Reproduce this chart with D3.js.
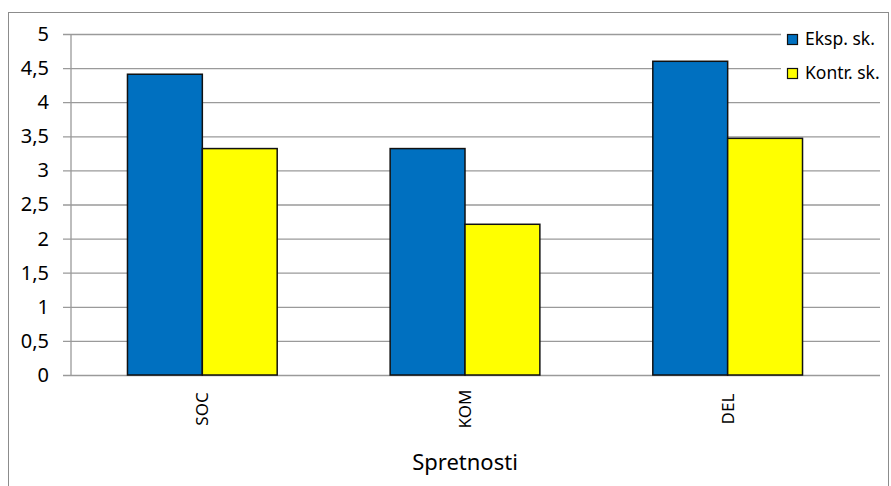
<!DOCTYPE html>
<html>
<head>
<meta charset="utf-8">
<script src="https://cdn.jsdelivr.net/npm/d3@7/dist/d3.min.js"></script>
<style>
  html, body { margin: 0; padding: 0; background: #fff; }
  svg { display: block; font-family: "Noto Sans", "Open Sans", sans-serif; }
</style>
</head>
<body>
<svg id="chart" width="891" height="486"></svg>
<script>
// Skills scored by the experimental and the control group
const categories = ["SOC", "KOM", "DEL"];
const seriesNames = ["Eksp. sk.", "Kontr. sk."];
const eksp = [4.41, 3.32, 4.60];
const kontr = [3.32, 2.21, 3.47];
const yTicks = [0, 0.5, 1, 1.5, 2, 2.5, 3, 3.5, 4, 4.5, 5];
const xTitle = "Spretnosti";
const colors = ["#0070C0", "#FFFF00"];

const svg = d3.select("#chart");
const margin = { left: 71, top: 34, right: 32, bottom: 111 };
const W = 891, H = 486;
const plotW = W - margin.left - margin.right;
const plotH = H - margin.top - margin.bottom;
const gridW = 880 - margin.left;

// chart frame
svg.append("rect")
  .attr("x", 8.5).attr("y", 12.5)
  .attr("width", 880).attr("height", 480)
  .attr("fill", "#fff").attr("stroke", "#8c8c8c").attr("stroke-width", 1);

const g = svg.append("g").attr("transform", `translate(${margin.left},${margin.top})`);

const x0 = d3.scaleBand().domain(categories).range([0, plotW]).paddingInner(0.43).paddingOuter(0.215);
const x1 = d3.scaleBand().domain(seriesNames).range([0, x0.bandwidth()]);
const y = d3.scaleLinear().domain([0, 5]).range([plotH, 0]);

// horizontal gridlines with tick stubs on the left
const yAxis = d3.axisLeft(y).tickValues(yTicks)
  .tickSize(-gridW - 8).tickPadding(14)
  .tickFormat(d => String(d).replace(".", ","));
const ya = g.append("g").attr("transform", "translate(-8,0)").call(yAxis);
ya.select(".domain").remove();
ya.selectAll(".tick line").attr("stroke", "#9a9a9a").attr("stroke-width", 1.3)
  .attr("x1", 0).attr("x2", gridW + 8);
ya.selectAll(".tick text").attr("font-size", 20).attr("fill", "#000")
  .attr("font-family", "Noto Sans, sans-serif");

// vertical axis line
g.append("line").attr("x1", 0).attr("x2", 0).attr("y1", 0).attr("y2", plotH)
  .attr("stroke", "#9a9a9a").attr("stroke-width", 1.3);

// bars
const data = categories.map((c, i) => ({ cat: c, vals: [eksp[i], kontr[i]] }));
const groups = g.selectAll(".grp").data(data).join("g")
  .attr("transform", d => `translate(${x0(d.cat)},0)`);
groups.selectAll("rect").data(d => d.vals.map((v, j) => ({ name: seriesNames[j], v, j })))
  .join("rect")
  .attr("x", d => x1(d.name))
  .attr("y", d => y(d.v))
  .attr("width", x1.bandwidth())
  .attr("height", d => plotH - y(d.v))
  .attr("fill", d => colors[d.j])
  .attr("stroke", "#111").attr("stroke-width", 1.5);

// category labels, rotated
const xAxis = d3.axisBottom(x0).tickSize(0);
const xa = g.append("g").attr("transform", `translate(0,${plotH})`).call(xAxis);
xa.select(".domain").remove();
xa.selectAll(".tick text")
  .attr("transform", "translate(0,34) rotate(-90)")
  .attr("dy", "0.35em").attr("y", 0)
  .attr("text-anchor", "middle")
  .attr("font-size", 17).attr("fill", "#000")
  .attr("font-family", "Noto Sans, sans-serif");

// axis title
svg.append("text").attr("x", margin.left + plotW / 2).attr("y", 470)
  .attr("text-anchor", "middle").attr("font-size", 22).attr("fill", "#000")
  .text(xTitle);

// legend
const leg = svg.append("g").attr("transform", "translate(781,24)");
leg.append("rect").attr("x", 0).attr("y", 0).attr("width", 104).attr("height", 64).attr("fill", "#fff");
seriesNames.forEach((n, i) => {
  const row = leg.append("g").attr("transform", `translate(0,${15 + i * 34})`);
  row.append("rect").attr("x", 6.5).attr("y", -4.5).attr("width", 10).attr("height", 10)
    .attr("fill", colors[i]).attr("stroke", "#111").attr("stroke-width", 1.2);
  row.append("text").attr("x", 24).attr("y", 0).attr("dy", "0.36em")
    .attr("font-size", 17.5).attr("fill", "#000").text(n);
});
</script>
</body>
</html>
